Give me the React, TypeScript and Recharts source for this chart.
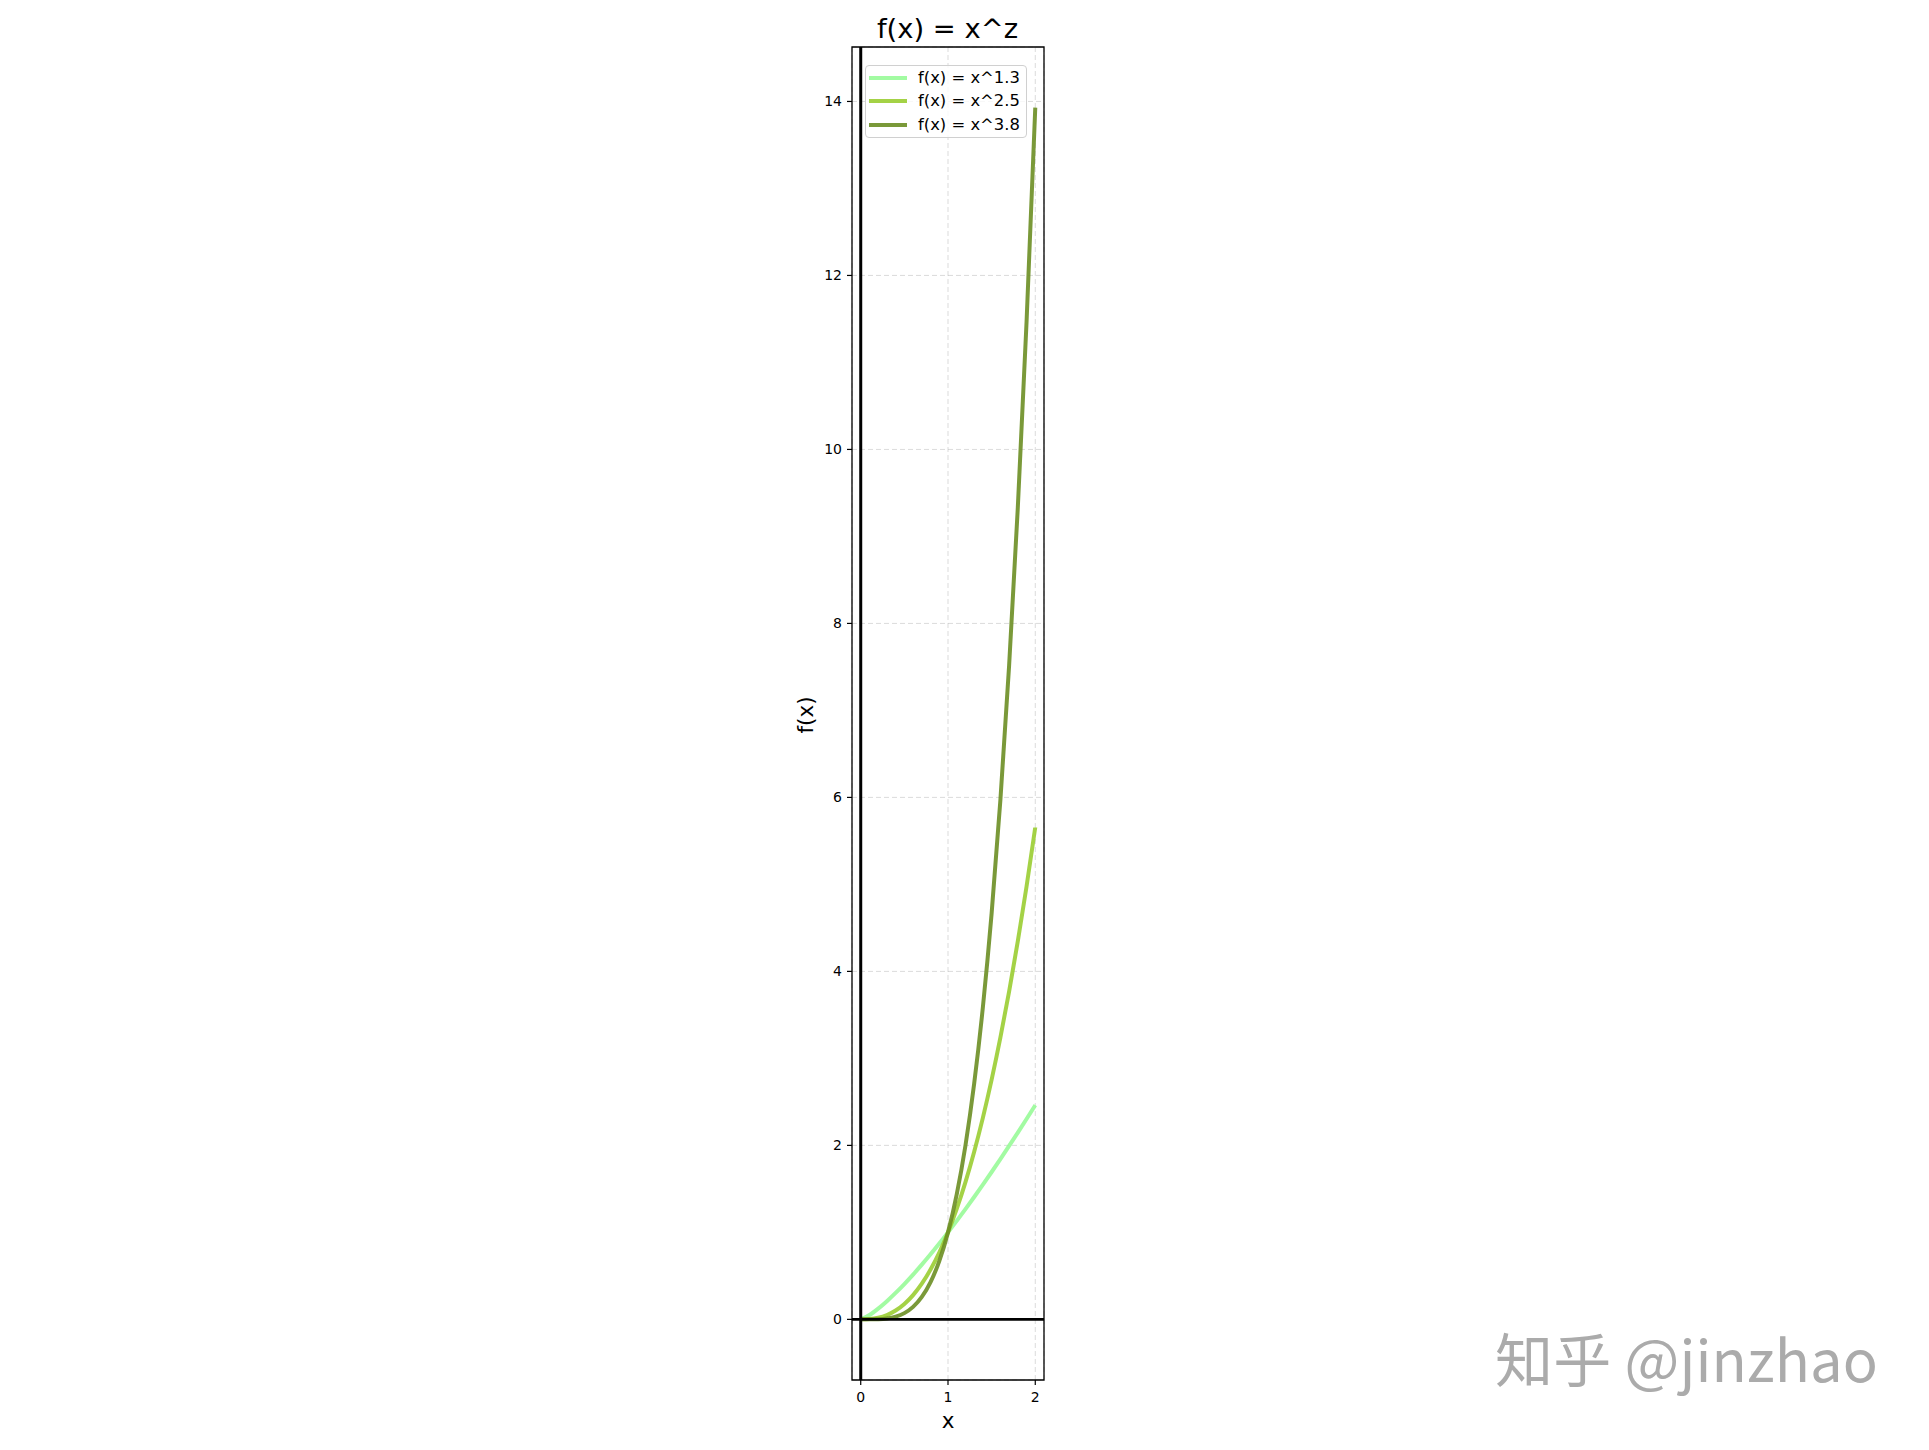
import React from 'react';
import {
  LineChart, Line, XAxis, YAxis, CartesianGrid, ReferenceLine, ReferenceArea
} from 'recharts';

// sample points along x
const xs = [0, 0.1, 0.2, 0.3, 0.4, 0.5, 0.6, 0.7, 0.8, 0.9, 1.0, 1.1, 1.2, 1.3, 1.4, 1.5, 1.6, 1.7, 1.8, 1.9, 2.0];
const pow13 = [0, 0.0501, 0.1234, 0.2091, 0.3039, 0.4061, 0.5148, 0.6289, 0.7482, 0.872, 1, 1.1319, 1.2675, 1.4065, 1.5487, 1.6941, 1.8424, 1.9934, 2.1472, 2.3034, 2.4623];
const pow25 = [0, 0.0032, 0.0179, 0.0493, 0.1012, 0.1768, 0.2789, 0.41, 0.5724, 0.7684, 1, 1.2691, 1.5774, 1.9269, 2.3191, 2.7557, 3.2382, 3.7681, 4.3469, 4.976, 5.6569];
const pow38 = [0, 0.0002, 0.0022, 0.0103, 0.0308, 0.0718, 0.1435, 0.2578, 0.4283, 0.6701, 1, 1.4365, 1.9993, 2.7101, 3.5917, 4.6683, 5.966, 7.5113, 9.3333, 11.464, 13.929];

const xTicks = [0, 1, 2];
const yTicks = [0, 2, 4, 6, 8, 10, 12, 14];

const seriesNames = ['f(x) = x^1.3', 'f(x) = x^2.5', 'f(x) = x^3.8'];
const seriesKeys = ['p13', 'p25', 'p38'];
const seriesColors = ['#98FB98', '#9ACD32', '#6B8E23'];

const X_DOMAIN: [number, number] = [-0.1, 2.1];
const Y_DOMAIN: [number, number] = [-0.697, 14.626];

const FONT = '"DejaVu Sans", sans-serif';

const chartData = xs.map((x, i) => ({ x, p13: pow13[i], p25: pow25[i], p38: pow38[i] }));

// drawn over the chart, so it does not eat into the plot area
const LegendBox = () => (
  <div style={{
    position: 'absolute', left: 865, top: 65,
    width: 162, height: 73, boxSizing: 'border-box', background: 'rgba(255,255,255,0.8)',
    border: '1px solid #d0d0d0', borderRadius: 4, fontFamily: FONT, fontSize: 16.4, color: '#000',
    paddingTop: 0,
  }}>
    {seriesNames.map((name, i) => (
      <div key={name} style={{ display: 'flex', alignItems: 'center', height: 23.5 }}>
        <div style={{ marginLeft: 3, width: 38, height: 4, background: seriesColors[i], opacity: 0.9 }} />
        <span style={{ marginLeft: 11, lineHeight: 1 }}>{name}</span>
      </div>
    ))}
  </div>
);

const App = () => {
  const tickStyle = { fontSize: 14, fill: '#000', fontFamily: FONT };
  return (
    <div style={{ position: 'absolute', left: 0, top: 0, width: 1929, height: 1450, background: '#fff' }}>
      <LineChart width={1929} height={1450} data={chartData}
        margin={{ top: 47, right: 885, left: 792, bottom: 30 }}>
        <CartesianGrid stroke="#b0b0b0" strokeOpacity={0.45} strokeDasharray="5 3" />
        <XAxis dataKey="x" type="number" domain={X_DOMAIN} ticks={xTicks} allowDataOverflow
          height={40} axisLine={false} tickSize={5} tickMargin={7}
          tickLine={{ stroke: '#000', strokeWidth: 1.2 }} tick={tickStyle} interval={0} />
        <YAxis type="number" domain={Y_DOMAIN} ticks={yTicks} allowDataOverflow
          width={60} axisLine={false} tickSize={5} tickMargin={5}
          tickLine={{ stroke: '#000', strokeWidth: 1.2 }} tick={tickStyle} interval={0} />
        {seriesKeys.map((k, i) => (
          <Line key={k} dataKey={k} name={seriesNames[i]} type="monotone" stroke={seriesColors[i]}
            strokeOpacity={0.9} strokeWidth={4} dot={false} isAnimationActive={false} />
        ))}
        <ReferenceLine x={0} stroke="#000" strokeWidth={3} />
        <ReferenceLine y={0} stroke="#000" strokeWidth={2.6} />
        <ReferenceArea x1={X_DOMAIN[0]} x2={X_DOMAIN[1]} y1={Y_DOMAIN[0]} y2={Y_DOMAIN[1]}
          fill="none" stroke="#000" strokeWidth={1.3} strokeOpacity={1} />
      </LineChart>
      <LegendBox />
      <svg width={1929} height={1450} style={{ position: 'absolute', left: 0, top: 0, pointerEvents: 'none' }}>
        <text x={947.5} y={38} textAnchor="middle" fontFamily={FONT} fontSize={27.4} fill="#000">f(x) = x^z</text>
        <text x={948} y={1428} textAnchor="middle" fontFamily={FONT} fontSize={21.5} fill="#000">x</text>
        <text transform="translate(813,715) rotate(-90)" textAnchor="middle" fontFamily={FONT} fontSize={21.5} fill="#000">f(x)</text>
        <text x={1495} y={1382} fontFamily='"Noto Sans CJK SC", sans-serif' fontSize={58} fill="#ababab"
          textLength={383} lengthAdjust="spacing">知乎 @jinzhao</text>
      </svg>
    </div>
  );
};

export default App;
